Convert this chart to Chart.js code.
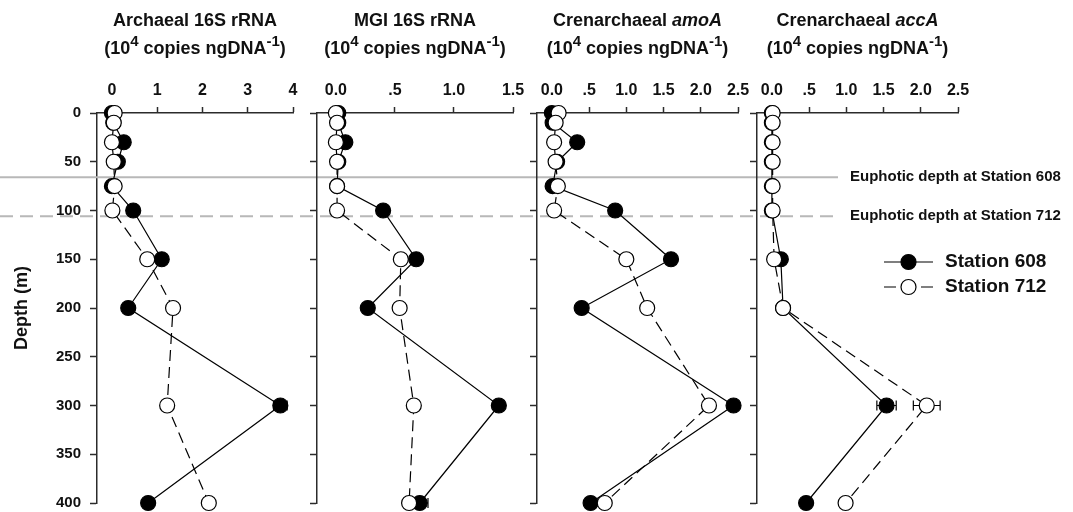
<!DOCTYPE html>
<html>
<head>
<meta charset="utf-8">
<script src="https://cdn.jsdelivr.net/npm/chart.js@4.4.1/dist/chart.umd.min.js"></script>
<style>
  body { margin: 0; background: #fff; }
  #wrap { position: relative; width: 1073px; height: 512px; }
  #wrap canvas { position: absolute; left: 0; top: 0; }
</style>
</head>
<body>
<div id="wrap">
  <canvas id="c1" width="1073" height="512"></canvas>
  <canvas id="c2" width="1073" height="512"></canvas>
  <canvas id="c3" width="1073" height="512"></canvas>
  <canvas id="c4" width="1073" height="512"></canvas>
</div>
<script>
// sampling depths (m)
const depths = [0, 10, 30, 50, 75, 100, 150, 200, 300, 400];

// 10^4 copies ngDNA-1
const arch608 = [0.0, 0.03, 0.26, 0.13, 0.0, 0.47, 1.10, 0.36, 3.72, 0.80];
const arch712 = [0.06, 0.04, 0.0, 0.04, 0.06, 0.01, 0.78, 1.35, 1.22, 2.14];
const mgi608 = [0.02, 0.02, 0.08, 0.02, 0.01, 0.40, 0.68, 0.27, 1.38, 0.71];
const mgi712 = [0.0, 0.01, 0.0, 0.01, 0.01, 0.01, 0.55, 0.54, 0.66, 0.62];
const amoA608 = [0.0, 0.01, 0.34, 0.07, 0.01, 0.85, 1.60, 0.40, 2.44, 0.52];
const amoA712 = [0.09, 0.05, 0.03, 0.05, 0.08, 0.03, 1.00, 1.28, 2.11, 0.71];
const accA608 = [0.0, 0.0, 0.0, 0.0, 0.0, 0.0, 0.12, 0.15, 1.54, 0.46];
const accA712 = [0.01, 0.01, 0.01, 0.01, 0.01, 0.01, 0.03, 0.15, 2.08, 0.99];

// error bars (0 = none drawn)
const arch608Err = [0, 0, 0, 0, 0, 0, 0, 0, 0.15, 0];
const mgi608Err = [0, 0, 0, 0, 0, 0, 0, 0, 0, 0.07];
const amoA712Err = [0, 0, 0, 0, 0, 0, 0.08, 0, 0, 0];
const accA608Err = [0, 0, 0, 0, 0, 0, 0, 0, 0.13, 0];
const accA712Err = [0, 0, 0, 0, 0, 0, 0, 0, 0.18, 0.07];

// x tick values / labels
const archTicks = [0, 1, 2, 3, 4];
const archLabels = ['0', '1', '2', '3', '4'];
const mgiTicks = [0, 0.5, 1, 1.5];
const mgiLabels = ['0.0', '.5', '1.0', '1.5'];
const geneTicks = [0, 0.5, 1, 1.5, 2, 2.5];
const geneLabels = ['0.0', '.5', '1.0', '1.5', '2.0', '2.5'];

// euphotic depths (m)
const euphotic608 = 66;
const euphotic712 = 106;

const FAM = "'Liberation Sans', Arial, sans-serif";
Chart.defaults.font.family = FAM;
Chart.defaults.color = '#111';
const AX = '#2b2b2b';
const TOP = 113, XH = 40;

function drawRuns(ctx, runs, cx, y) {
  const fonts = { n: 'bold 18px ' + FAM, i: 'italic bold 18px ' + FAM, s: 'bold 15px ' + FAM };
  const items = runs.map(r => {
    ctx.font = fonts[r[1]];
    return { t: r[0], f: fonts[r[1]], sup: r[1] === 's', w: ctx.measureText(r[0]).width };
  });
  let x = cx - items.reduce((a, b) => a + b.w, 0) / 2;
  ctx.textAlign = 'left';
  ctx.textBaseline = 'alphabetic';
  items.forEach(it => {
    ctx.font = it.f;
    ctx.fillText(it.t, x, it.sup ? y - 8 : y);
    x += it.w;
  });
}

const unitRuns = [['(10', 'n'], ['4', 's'], [' copies ngDNA', 'n'], ['-1', 's'], [')', 'n']];

function makePanel(id, p) {
  const extras = {
    id: 'extras' + id,
    beforeDatasetsDraw(chart) {
      const ctx = chart.ctx, xs = chart.scales.x;
      ctx.save();
      ctx.strokeStyle = '#000';
      ctx.lineWidth = 1.2;
      p.errs.forEach((errs, di) => {
        const pts = chart.getDatasetMeta(di).data;
        errs.forEach((e, i) => {
          if (!e) return;
          const v = di === 0 ? p.s608[i] : p.s712[i];
          const y = pts[i].y;
          const x0 = xs.getPixelForValue(v - e), x1 = xs.getPixelForValue(v + e);
          ctx.beginPath();
          ctx.moveTo(x0, y); ctx.lineTo(x1, y);
          ctx.moveTo(x0, y - 5); ctx.lineTo(x0, y + 5);
          ctx.moveTo(x1, y - 5); ctx.lineTo(x1, y + 5);
          ctx.stroke();
        });
      });
      ctx.restore();
    },
    afterDraw(chart) {
      const ctx = chart.ctx, a = chart.chartArea;
      const cx = (a.left + a.right) / 2;
      ctx.save();
      ctx.fillStyle = '#111';
      drawRuns(ctx, p.title, cx, 26);
      drawRuns(ctx, unitRuns, cx, 54);
      ctx.restore();
    }
  };
  const plugins = [extras];
  if (p.overlay) plugins.push(p.overlay);

  return new Chart(document.getElementById(id), {
    type: 'line',
    data: {
      datasets: [
        {
          label: 'Station 608',
          data: depths.map((d, i) => ({ x: p.s608[i], y: d })),
          borderColor: '#000', borderWidth: 1.2,
          pointRadius: 7.5, pointBackgroundColor: '#000', pointBorderColor: '#000', pointBorderWidth: 1.2,
          order: 1, clip: false
        },
        {
          label: 'Station 712',
          data: depths.map((d, i) => ({ x: p.s712[i], y: d })),
          borderColor: '#000', borderWidth: 1.2, borderDash: [11, 6],
          pointRadius: 7.5, pointBackgroundColor: '#fff', pointBorderColor: '#000', pointBorderWidth: 1.2,
          order: 0, clip: false
        }
      ]
    },
    options: {
      responsive: false,
      animation: false,
      indexAxis: 'y',
      events: [],
      layout: { padding: { left: p.left - p.yw, right: 1073 - p.right, top: TOP - XH, bottom: 9 } },
      plugins: { legend: { display: false }, tooltip: { enabled: false } },
      scales: {
        x: {
          type: 'linear', position: 'top', min: p.min, max: p.max,
          afterBuildTicks: s => { s.ticks = p.ticks.map(v => ({ value: v })); },
          afterFit: s => { s.height = XH; s.paddingLeft = 0; s.paddingRight = 0; },
          ticks: {
            callback: v => p.labels[p.ticks.indexOf(v)],
            font: { size: 16, weight: 'bold' }, color: '#111',
            padding: 7, autoSkip: false, minRotation: 0, maxRotation: 0
          },
          grid: { drawOnChartArea: false, drawTicks: true, tickLength: 6, tickColor: AX, tickWidth: 1.5 },
          border: { color: AX, width: 1.5 }
        },
        y: {
          type: 'linear', position: 'left', reverse: true, min: 0, max: 400,
          afterFit: s => { s.width = p.yw; s.paddingTop = 0; s.paddingBottom = 0; },
          ticks: { stepSize: 50, display: p.first, font: { size: 15, weight: 'bold' }, color: '#111', padding: 9 },
          grid: { drawOnChartArea: false, drawTicks: true, tickLength: 7, tickColor: AX, tickWidth: 1.5 },
          border: { color: AX, width: 1.5 },
          title: { display: p.first, text: 'Depth (m)', font: { size: 18, weight: 'bold' }, color: '#111', padding: 0 }
        }
      }
    },
    plugins: plugins
  });
}

// euphotic lines, their labels and the legend
const overlay = {
  id: 'overlay',
  beforeDatasetsDraw(chart) {
    const ctx = chart.ctx, ys = chart.scales.y;
    const y1 = ys.getPixelForValue(euphotic608), y2 = ys.getPixelForValue(euphotic712);
    ctx.save();
    ctx.lineWidth = 2;
    ctx.strokeStyle = '#b8b8b8';
    ctx.beginPath(); ctx.moveTo(0, y1); ctx.lineTo(838, y1); ctx.stroke();
    ctx.setLineDash([13, 7]);
    ctx.beginPath(); ctx.moveTo(0, y2); ctx.lineTo(838, y2); ctx.stroke();
    ctx.setLineDash([]);
    ctx.fillStyle = '#111';
    ctx.font = 'bold 15px ' + FAM;
    ctx.textAlign = 'left';
    ctx.textBaseline = 'middle';
    ctx.fillText('Euphotic depth at Station 608', 850, y1);
    ctx.fillText('Euphotic depth at Station 712', 850, y2);

    // legend
    const ly = [262, 287];
    ctx.strokeStyle = '#000';
    ctx.lineWidth = 1.2;
    ctx.beginPath(); ctx.moveTo(884, ly[0]); ctx.lineTo(933, ly[0]); ctx.stroke();
    ctx.beginPath(); ctx.moveTo(884, ly[1]); ctx.lineTo(896, ly[1]);
    ctx.moveTo(921, ly[1]); ctx.lineTo(933, ly[1]); ctx.stroke();
    ctx.beginPath(); ctx.arc(908.5, ly[0], 7.5, 0, Math.PI * 2);
    ctx.fillStyle = '#000'; ctx.fill(); ctx.stroke();
    ctx.beginPath(); ctx.arc(908.5, ly[1], 7.5, 0, Math.PI * 2);
    ctx.fillStyle = '#fff'; ctx.fill(); ctx.stroke();
    ctx.fillStyle = '#111';
    ctx.font = 'bold 19px ' + FAM;
    ctx.fillText('Station 608', 945, ly[0]);
    ctx.fillText('Station 712', 945, ly[1]);
    ctx.restore();
  }
};

makePanel('c1', {
  first: true, left: 97, right: 293, yw: 86, min: -0.33, max: 4,
  ticks: archTicks, labels: archLabels, s608: arch608, s712: arch712,
  errs: [arch608Err, []], title: [['Archaeal 16S rRNA', 'n']], overlay: overlay
});
makePanel('c2', {
  first: false, left: 317, right: 513, yw: 10, min: -0.16, max: 1.5,
  ticks: mgiTicks, labels: mgiLabels, s608: mgi608, s712: mgi712,
  errs: [mgi608Err, []], title: [['MGI 16S rRNA', 'n']]
});
makePanel('c3', {
  first: false, left: 537, right: 738, yw: 10, min: -0.2, max: 2.5,
  ticks: geneTicks, labels: geneLabels, s608: amoA608, s712: amoA712,
  errs: [[], amoA712Err], title: [['Crenarchaeal ', 'n'], ['amoA', 'i']]
});
makePanel('c4', {
  first: false, left: 757, right: 958, yw: 10, min: -0.2, max: 2.5,
  ticks: geneTicks, labels: geneLabels, s608: accA608, s712: accA712,
  errs: [accA608Err, accA712Err], title: [['Crenarchaeal ', 'n'], ['accA', 'i']]
});
</script>
</body>
</html>
